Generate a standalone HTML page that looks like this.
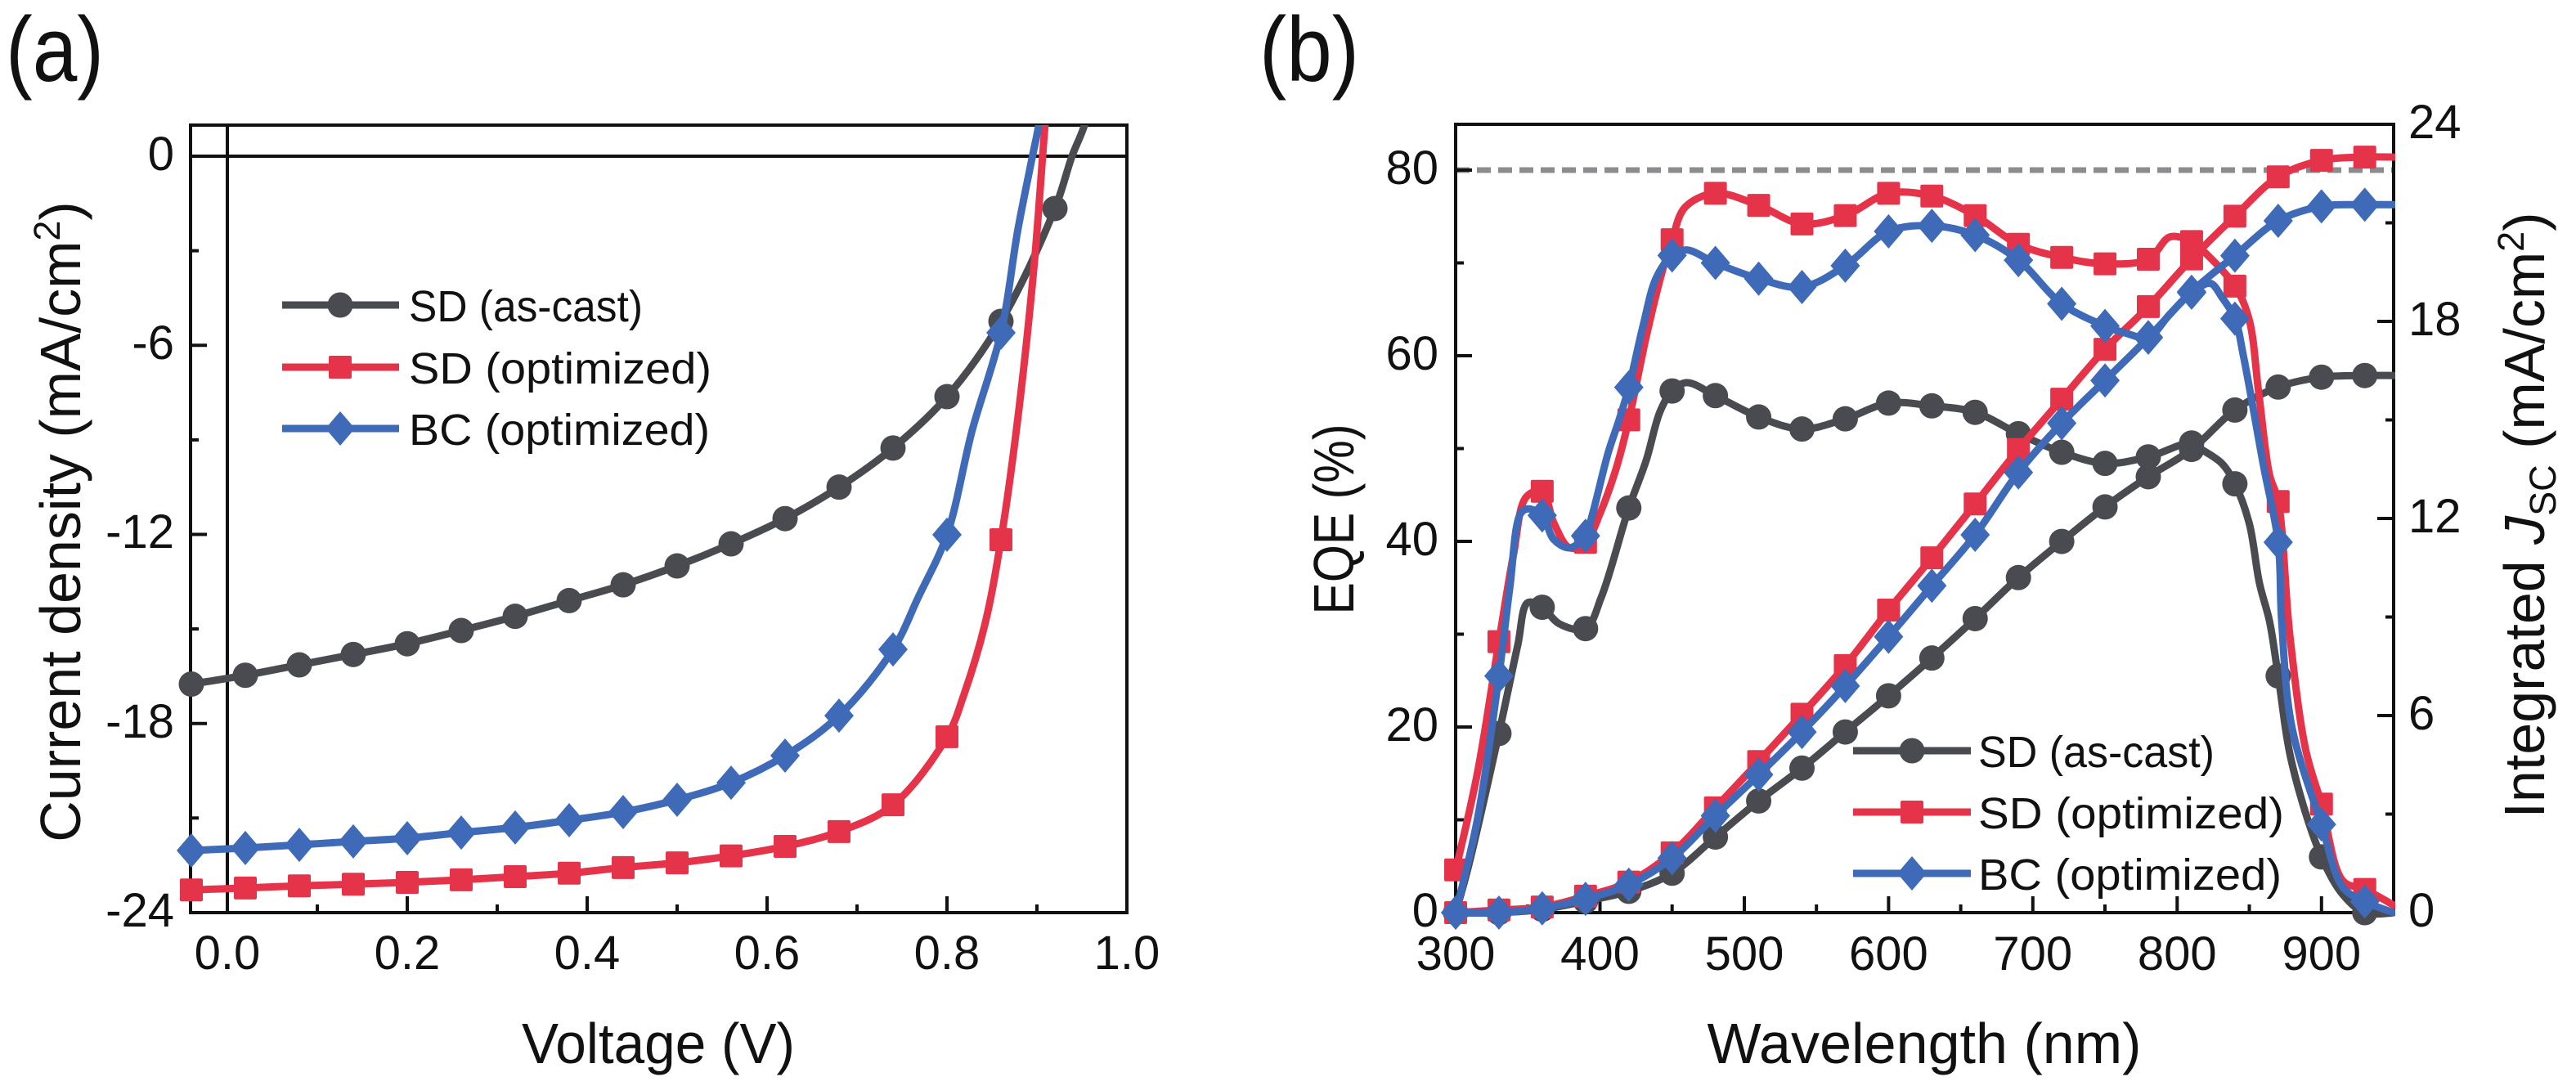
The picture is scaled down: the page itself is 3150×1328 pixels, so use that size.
<!DOCTYPE html>
<html><head><meta charset="utf-8"><style>
html,body{margin:0;padding:0;background:#fff;}
svg{display:block;}
text{font-family:"Liberation Sans",Arial,sans-serif;fill:#111;}
</style></head><body>
<svg id="s" width="3150" height="1328" viewBox="0 0 3150 1328" xmlns="http://www.w3.org/2000/svg">
<rect width="3150" height="1328" fill="#fff"/>
<defs>
<clipPath id="ca"><rect x="150" y="153" width="1300" height="1100"/></clipPath>
<clipPath id="cb"><rect x="1700" y="100" width="1229" height="1100"/></clipPath>
</defs>

<!-- Panel labels -->
<text x="7" y="99" font-size="112" textLength="120" lengthAdjust="spacingAndGlyphs">(a)</text>
<text x="1540" y="99" font-size="112" textLength="122" lengthAdjust="spacingAndGlyphs">(b)</text>

<!-- ===== Panel A axes ===== -->
<g stroke="#111" stroke-width="4" fill="none">
<rect x="233" y="153" width="1145" height="963"/>
<line x1="233" y1="191" x2="1378" y2="191"/>
<line x1="278" y1="153" x2="278" y2="1118"/>
<line x1="233" y1="422.2" x2="253" y2="422.2"/>
<line x1="233" y1="653.5" x2="253" y2="653.5"/>
<line x1="233" y1="884.7" x2="253" y2="884.7"/>
<line x1="233" y1="306.6" x2="243" y2="306.6"/>
<line x1="233" y1="537.9" x2="243" y2="537.9"/>
<line x1="233" y1="769.1" x2="243" y2="769.1"/>
<line x1="233" y1="1000.3" x2="243" y2="1000.3"/>
<line x1="498" y1="1116" x2="498" y2="1096"/>
<line x1="718" y1="1116" x2="718" y2="1096"/>
<line x1="938" y1="1116" x2="938" y2="1096"/>
<line x1="1158" y1="1116" x2="1158" y2="1096"/>
<line x1="388" y1="1116" x2="388" y2="1106"/>
<line x1="608" y1="1116" x2="608" y2="1106"/>
<line x1="828" y1="1116" x2="828" y2="1106"/>
<line x1="1048" y1="1116" x2="1048" y2="1106"/>
<line x1="1268" y1="1116" x2="1268" y2="1106"/>
</g>
<g font-size="58" text-anchor="end">
<text x="213" y="208">0</text>
<text x="213" y="439">-6</text>
<text x="213" y="670">-12</text>
<text x="213" y="902">-18</text>
<text x="213" y="1133">-24</text>
</g>
<g font-size="58" text-anchor="middle">
<text x="278" y="1185">0.0</text>
<text x="498" y="1185">0.2</text>
<text x="718" y="1185">0.4</text>
<text x="938" y="1185">0.6</text>
<text x="1158" y="1185">0.8</text>
<text x="1378" y="1185">1.0</text>
</g>
<text x="805" y="1300" font-size="70" text-anchor="middle" textLength="334" lengthAdjust="spacingAndGlyphs">Voltage (V)</text>
<text transform="translate(98,638) rotate(-90)" font-size="70" text-anchor="middle">Current density (mA/cm<tspan font-size="45" dy="-25">2</tspan><tspan dy="25">)</tspan></text>

<!-- ===== Panel B axes ===== -->
<line x1="1780" y1="208" x2="2927" y2="208" stroke="#8a8c8f" stroke-width="7" stroke-dasharray="17 9"/>
<g stroke="#111" stroke-width="4" fill="none">
<rect x="1780" y="152" width="1147" height="964"/>
<line x1="1780" y1="889" x2="1800" y2="889"/>
<line x1="1780" y1="662" x2="1800" y2="662"/>
<line x1="1780" y1="435" x2="1800" y2="435"/>
<line x1="1780" y1="208" x2="1800" y2="208"/>
<line x1="1780" y1="1002.5" x2="1790" y2="1002.5"/>
<line x1="1780" y1="775.5" x2="1790" y2="775.5"/>
<line x1="1780" y1="548.5" x2="1790" y2="548.5"/>
<line x1="1780" y1="321.5" x2="1790" y2="321.5"/>
<line x1="2927" y1="875" x2="2907" y2="875"/>
<line x1="2927" y1="634" x2="2907" y2="634"/>
<line x1="2927" y1="393" x2="2907" y2="393"/>
<line x1="2927" y1="995.5" x2="2917" y2="995.5"/>
<line x1="2927" y1="754.5" x2="2917" y2="754.5"/>
<line x1="2927" y1="513.5" x2="2917" y2="513.5"/>
<line x1="2927" y1="272.5" x2="2917" y2="272.5"/>
<line x1="1956.5" y1="1116" x2="1956.5" y2="1096"/>
<line x1="2133" y1="1116" x2="2133" y2="1096"/>
<line x1="2309.4" y1="1116" x2="2309.4" y2="1096"/>
<line x1="2485.8" y1="1116" x2="2485.8" y2="1096"/>
<line x1="2662.3" y1="1116" x2="2662.3" y2="1096"/>
<line x1="2838.8" y1="1116" x2="2838.8" y2="1096"/>
<line x1="1868.2" y1="1116" x2="1868.2" y2="1106"/>
<line x1="2044.7" y1="1116" x2="2044.7" y2="1106"/>
<line x1="2221.2" y1="1116" x2="2221.2" y2="1106"/>
<line x1="2397.6" y1="1116" x2="2397.6" y2="1106"/>
<line x1="2574" y1="1116" x2="2574" y2="1106"/>
<line x1="2750.5" y1="1116" x2="2750.5" y2="1106"/>
</g>
<g font-size="58" text-anchor="end">
<text x="1759" y="1133">0</text>
<text x="1759" y="906">20</text>
<text x="1759" y="679">40</text>
<text x="1759" y="452">60</text>
<text x="1759" y="225">80</text>
</g>
<g font-size="58" text-anchor="start">
<text x="2945" y="1133">0</text>
<text x="2945" y="892">6</text>
<text x="2945" y="651">12</text>
<text x="2945" y="410">18</text>
<text x="2945" y="169">24</text>
</g>
<g font-size="58" text-anchor="middle">
<text x="1780" y="1186">300</text>
<text x="1956.5" y="1186">400</text>
<text x="2133" y="1186">500</text>
<text x="2309.4" y="1186">600</text>
<text x="2485.8" y="1186">700</text>
<text x="2662.3" y="1186">800</text>
<text x="2838.8" y="1186">900</text>
</g>
<text x="2353" y="1300" font-size="70" text-anchor="middle" textLength="531" lengthAdjust="spacingAndGlyphs">Wavelength (nm)</text>
<text transform="translate(1655,635) rotate(-90)" font-size="70" text-anchor="middle" textLength="233" lengthAdjust="spacingAndGlyphs">EQE (%)</text>
<text transform="translate(3111,630) rotate(-90)" font-size="70" text-anchor="middle">Integrated <tspan font-style="italic">J</tspan><tspan font-size="45" dy="14">SC</tspan><tspan dy="-14"> (mA/cm</tspan><tspan font-size="45" dy="-25">2</tspan><tspan dy="25">)</tspan></text>

<g id="da"></g>
<g id="db"></g>

<g id="lg"></g>
<g font-size="54">
<text x="500" y="393" textLength="286" lengthAdjust="spacingAndGlyphs">SD (as-cast)</text>
<text x="500" y="469" textLength="370" lengthAdjust="spacingAndGlyphs">SD (optimized)</text>
<text x="500" y="544" textLength="368" lengthAdjust="spacingAndGlyphs">BC (optimized)</text>
<text x="2419" y="938" textLength="289" lengthAdjust="spacingAndGlyphs">SD (as-cast)</text>
<text x="2419" y="1013" textLength="374" lengthAdjust="spacingAndGlyphs">SD (optimized)</text>
<text x="2419" y="1088" textLength="371" lengthAdjust="spacingAndGlyphs">BC (optimized)</text>
</g>
</svg>
<script>
(function(){
const NS="http://www.w3.org/2000/svg";
const GR="#4a4b50", RD="#e5334a", BL="#3f6ab8";
function el(tag,attrs,parent){const e=document.createElementNS(NS,tag);for(const k in attrs)e.setAttribute(k,attrs[k]);parent.appendChild(e);return e;}
function crPath(pts){
  let d="M"+pts[0][0].toFixed(1)+","+pts[0][1].toFixed(1);
  for(let i=0;i<pts.length-1;i++){
    const p0=pts[i-1]||pts[i],p1=pts[i],p2=pts[i+1],p3=pts[i+2]||pts[i+1];
    const l1=Math.hypot(p1[0]-p0[0],p1[1]-p0[1]),l2=Math.hypot(p2[0]-p1[0],p2[1]-p1[1]),l3=Math.hypot(p3[0]-p2[0],p3[1]-p2[1]);
    const d1=Math.sqrt(l1),d2=Math.sqrt(l2),d3=Math.sqrt(l3);
    let b1,b2;
    if(d1<1e-6){b1=p1;}else{
      const a=d1*d1,b=d2*d2,c=2*a+3*d1*d2+b,n=3*d1*(d1+d2);
      b1=[(a*p2[0]-b*p0[0]+c*p1[0])/n,(a*p2[1]-b*p0[1]+c*p1[1])/n];}
    if(d3<1e-6){b2=p2;}else{
      const a=d3*d3,b=d2*d2,c=2*a+3*d3*d2+b,n=3*d3*(d3+d2);
      b2=[(a*p1[0]-b*p3[0]+c*p2[0])/n,(a*p1[1]-b*p3[1]+c*p2[1])/n];}
    d+=" C"+b1[0].toFixed(1)+","+b1[1].toFixed(1)+" "+b2[0].toFixed(1)+","+b2[1].toFixed(1)+" "+p2[0].toFixed(1)+","+p2[1].toFixed(1);
  }
  return d;
}
function marker(type,cx,cy,col,parent){
  if(type==="c") el("circle",{cx:cx,cy:cy,r:15.5,fill:col},parent);
  else if(type==="s") el("rect",{x:cx-14,y:cy-14,width:28,height:28,rx:2,fill:col},parent);
  else el("polygon",{points:cx+","+(cy-21)+" "+(cx+18)+","+cy+" "+cx+","+(cy+21)+" "+(cx-18)+","+cy,fill:col},parent);
}
function line(pts,col,parent,clip){
  const g=clip?el("g",{"clip-path":"url(#"+clip+")"},parent):parent;
  el("path",{d:crPath(pts),fill:"none",stroke:col,"stroke-width":9,"stroke-linejoin":"round","stroke-linecap":"round"},g);
}
function merge(m,ex){const a=m.concat(ex);a.sort((p,q)=>p[0]-q[0]);return a;}

const XA=v=>278+1100*v, YA=j=>191-38.54*j;
const da=document.getElementById("da");
const VA=[];for(let k=0;k<17;k++)VA.push(-0.04+0.06*k);
const gJ=[-16.75,-16.47,-16.14,-15.81,-15.47,-15.05,-14.6,-14.1,-13.6,-13.0,-12.3,-11.5,-10.5,-9.26,-7.63,-5.24,-1.66];
const rJ=[-23.28,-23.22,-23.15,-23.1,-23.04,-22.96,-22.86,-22.75,-22.57,-22.42,-22.2,-21.9,-21.43,-20.58,-18.42,-12.17];
const bJ=[-22.03,-21.95,-21.85,-21.74,-21.64,-21.46,-21.3,-21.07,-20.81,-20.42,-19.88,-19.02,-17.75,-15.65,-12.01,-5.6];
const series=[
 [gJ,[[0.939,0],[0.953,1.0],[0.962,2.2]],GR,"c"],
 [rJ,[[0.819,-17.07],[0.842,-14.87],[0.879,-8.26],[0.897,-3.42],[0.909,0.99],[0.914,2.5]],RD,"s"],
 [bJ,[[0.768,-14.0],[0.828,-8.7],[0.879,-2.3],[0.895,0],[0.902,1.0],[0.907,2.3]],BL,"d"]
];
series.forEach(s=>{
  const m=s[0].map((j,i)=>[VA[i],j]);
  const pts=merge(m,s[1]).map(p=>[XA(p[0]),YA(p[1])]);
  line(pts,s[2],da,"ca");
  m.forEach(p=>marker(s[3],XA(p[0]),YA(p[1]),s[2],da));
});

const XB=l=>1780+1.7646*(l-300), YE=e=>1116-11.35*e, YJ=j=>1116-40.17*j;
const db=document.getElementById("db");
const LB=[];for(let k=0;k<22;k++)LB.push(300+30*k);
const gE=[0,19.3,32.9,30.6,43.6,56.2,55.7,53.4,52.1,53.2,54.9,54.6,53.9,51.6,49.6,48.4,49.1,50.6,46.2,25.5,6.0,0];
const rE=[4.6,29.2,45.4,39.9,53.1,72.5,77.5,76.2,74.2,75.1,77.5,77.2,75.1,72.0,70.6,69.9,70.4,72.3,67.5,44.3,11.7,2.5];
const bE=[0,25.5,42.8,40.6,56.6,70.8,70.0,68.3,67.4,69.7,73.4,74.0,73.0,70.3,65.6,63.2,62.0,66.8,64.0,39.9,9.5,1.2];
const gEx=[[308.7,4.9],[343,28.8],[350,33.4],[372,31.1],[401,34],[432,48.7],[441.7,54],[460,57.1],[817,49.9],[831,48.4],[850,41.9],[857,35.5],[864,31.4],[879.5,16.1],[915,1.9],[950,0]];
const rEx=[[315,15],[340,38.5],[349,44.8],[368,42],[379,39.3],[400,43],[411.5,48],[432,62],[443,69],[459,76],[795,72.8],[820,71],[849.7,64],[856.5,56],[864,47.2],[878,30],[889,17.6],[915,3.4],[950,0.8]];
const bEx=[[315,10],[337.5,35],[345,43],[350,43.5],[368,40.2],[379,39.3],[394.6,42.8],[405.8,49.6],[413.3,53.1],[430,63.3],[439,68.4],[460,71.4],[763,62.5],[795,64.5],[823,67.8],[831,66.3],[846,59.9],[860,48],[872.4,31.4],[879.5,20],[915,2.7],[950,0]];
const gS=[0,0,0.1,0.35,0.65,1.2,2.3,3.4,4.4,5.5,6.6,7.75,8.95,10.2,11.3,12.35,13.27,14.1,15.3,16.0,16.3,16.35];
const rS=[0,0.08,0.17,0.5,0.93,1.82,3.19,4.6,6.04,7.52,9.21,10.8,12.44,14.1,15.63,17.15,18.45,19.9,21.2,22.4,22.9,23.0];
const bS=[0,0,0.13,0.42,0.85,1.66,2.95,4.2,5.5,6.9,8.4,9.95,11.5,13.4,14.9,16.2,17.5,18.9,20.0,21.06,21.5,21.55];
const sb=[
 [gE,gEx,gS,[[950,16.35]],GR,"c"],
 [rE,rEx,rS,[[950,23.0]],RD,"s"],
 [bE,bEx,bS,[[950,21.55]],BL,"d"]
];
sb.forEach(s=>{
  const me=s[0].map((v,i)=>[LB[i],v]);
  const ms=s[2].map((v,i)=>[LB[i],v]);
  line(merge(me,s[1]).map(p=>[XB(p[0]),YE(p[1])]),s[4],db,"cb");
  line(merge(ms,s[3]).map(p=>[XB(p[0]),YJ(p[1])]),s[4],db,"cb");
  me.forEach(p=>marker(s[5],XB(p[0]),YE(p[1]),s[4],db));
  ms.forEach(p=>marker(s[5],XB(p[0]),YJ(p[1]),s[4],db));
});

const lg=document.getElementById("lg");
[[345,488,416,[373,449,524]],[2266,2410,2338,[918,993,1068]]].forEach(L=>{
  [[GR,"c"],[RD,"s"],[BL,"d"]].forEach((c,i)=>{
    const y=L[3][i];
    el("line",{x1:L[0],y1:y,x2:L[1],y2:y,stroke:c[0],"stroke-width":9},lg);
    marker(c[1],L[2],y,c[0],lg);
  });
});
})();
</script>
</body></html>
